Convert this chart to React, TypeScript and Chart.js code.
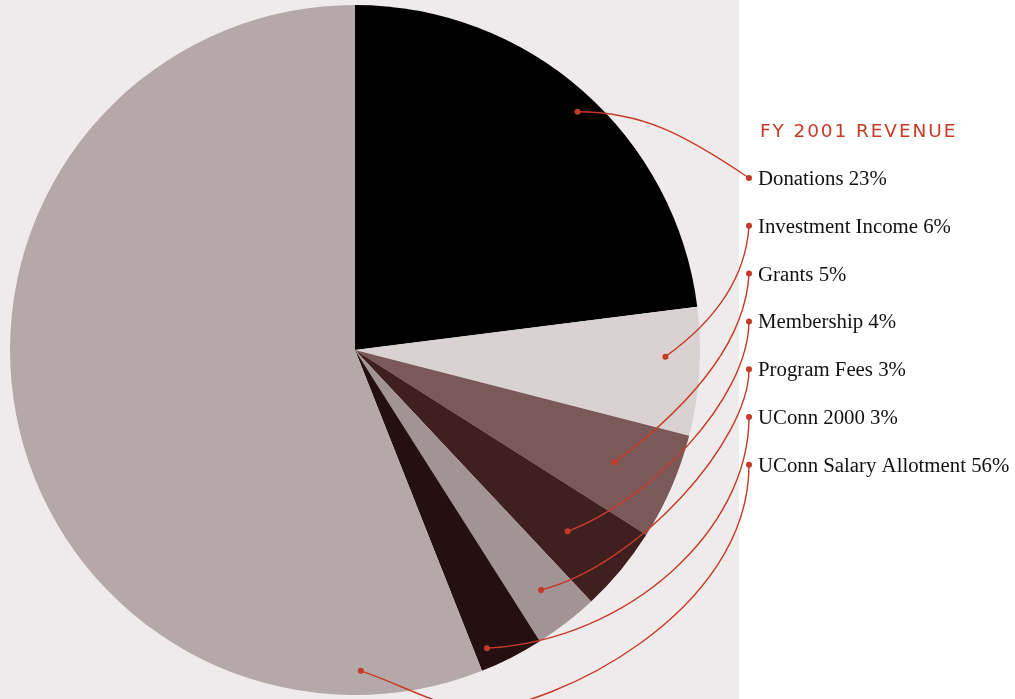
import React, { useEffect, useRef } from "react";
import { Chart, registerables } from "chart.js";

Chart.register(...registerables);

const categories = [
  "Donations",
  "Investment Income",
  "Grants",
  "Membership",
  "Program Fees",
  "UConn 2000",
  "UConn Salary Allotment",
];
const shares = [23, 6, 5, 4, 3, 3, 56];
const sliceColors = ["#000000", "#dad1d2", "#7a5958", "#3f1f1f", "#a29395", "#260f10", "#b5a8a8"];
const title = "FY 2001 REVENUE";

// anchor inside each slice: fraction along slice angle, fraction of radius
const anchorAngleFrac = [0.52, 0.39, 0.5, 0.56, 0.5, 0.79, 0.102];
const anchorRadiusFrac = [0.945, 0.9, 0.82, 0.81, 0.88, 0.945, 0.93];
// bezier control offsets: c1 relative to slice anchor, c2 relative to legend dot
const c1Offsets = [[64, 0], [53, -38], [87, -65], [82, -31], [98, -25], [142, -8], [70, 0]];
const c2Offsets = [[-65, -44], [-3, 49], [-3, 61], [-1, 79], [0, 71], [0, 113], [0, 150]];
// optional hidden via point (offset from slice anchor) where the connector dips below the page
const viaOffsets: (number[] | null)[] = [null, null, null, null, null, null, [119, 38]];

const RED = "#c53b27";

const overlayPlugin = {
  id: "overlay",
  beforeDraw(chart: any) {
    const { ctx, width, height } = chart;
    ctx.save();
    ctx.fillStyle = "#ffffff";
    ctx.fillRect(0, 0, width, height);
    ctx.fillStyle = "#efeaeb";
    ctx.fillRect(0, 0, 739, height);
    ctx.restore();
  },
  afterDraw(chart: any) {
    const { ctx } = chart;
    const meta = chart.getDatasetMeta(0);
    const legendX = 749;
    const textX = 758;
    const firstRowY = 178;
    const rowGap = 47.8;

    ctx.save();
    // title
    ctx.fillStyle = RED;
    ctx.font = "18.5px 'DejaVu Sans'";
    (ctx as any).letterSpacing = "1.9px";
    ctx.textBaseline = "alphabetic";
    ctx.textAlign = "left";
    ctx.fillText(title, 760, 137);
    (ctx as any).letterSpacing = "0px";

    categories.forEach((cat, i) => {
      const arc = meta.data[i] as any;
      const p = arc.getProps(["x", "y", "startAngle", "endAngle", "outerRadius"], true);
      const ang = p.startAngle + anchorAngleFrac[i] * (p.endAngle - p.startAngle);
      const r = anchorRadiusFrac[i] * p.outerRadius;
      const sx = p.x + Math.cos(ang) * r;
      const sy = p.y + Math.sin(ang) * r;
      const ey = firstRowY + i * rowGap;
      const ex = legendX;

      ctx.strokeStyle = RED;
      ctx.lineWidth = 1.4;
      ctx.beginPath();
      ctx.moveTo(sx, sy);
      const via = viaOffsets[i];
      if (via) {
        const hx = sx + via[0];
        const hy = sy + via[1];
        ctx.bezierCurveTo(sx + 45, sy + 15, hx - 40, hy, hx, hy);
        ctx.bezierCurveTo(
          hx + c1Offsets[i][0], hy + c1Offsets[i][1],
          ex + c2Offsets[i][0], ey + c2Offsets[i][1],
          ex, ey
        );
      } else {
        ctx.bezierCurveTo(
          sx + c1Offsets[i][0], sy + c1Offsets[i][1],
          ex + c2Offsets[i][0], ey + c2Offsets[i][1],
          ex, ey
        );
      }
      ctx.stroke();

      ctx.fillStyle = RED;
      ctx.beginPath();
      ctx.arc(sx, sy, 3, 0, Math.PI * 2);
      ctx.fill();
      ctx.beginPath();
      ctx.arc(ex, ey, 3, 0, Math.PI * 2);
      ctx.fill();

      ctx.fillStyle = "#111111";
      ctx.font = "20.8px 'Liberation Serif'";
      ctx.fillText(`${cat} ${shares[i]}%`, textX, ey + 7);
    });
    ctx.restore();
  },
};

export default function App() {
  const ref = useRef<HTMLCanvasElement>(null);
  useEffect(() => {
    if (!ref.current) return;
    const chart = new Chart(ref.current, {
      type: "pie",
      data: {
        labels: categories,
        datasets: [
          {
            data: shares,
            backgroundColor: sliceColors,
            borderWidth: 0,
          },
        ],
      },
      options: {
        responsive: false,
        animation: false,
        layout: { padding: { left: 10, top: 5, right: 315, bottom: 4 } },
        plugins: { legend: { display: false }, tooltip: { enabled: false } },
      },
      plugins: [overlayPlugin],
    });
    return () => chart.destroy();
  }, []);
  return (
    <div style={{ position: "absolute", left: 0, top: 0, width: 1015, height: 699 }}>
      <canvas ref={ref} width={1015} height={699} />
    </div>
  );
}
